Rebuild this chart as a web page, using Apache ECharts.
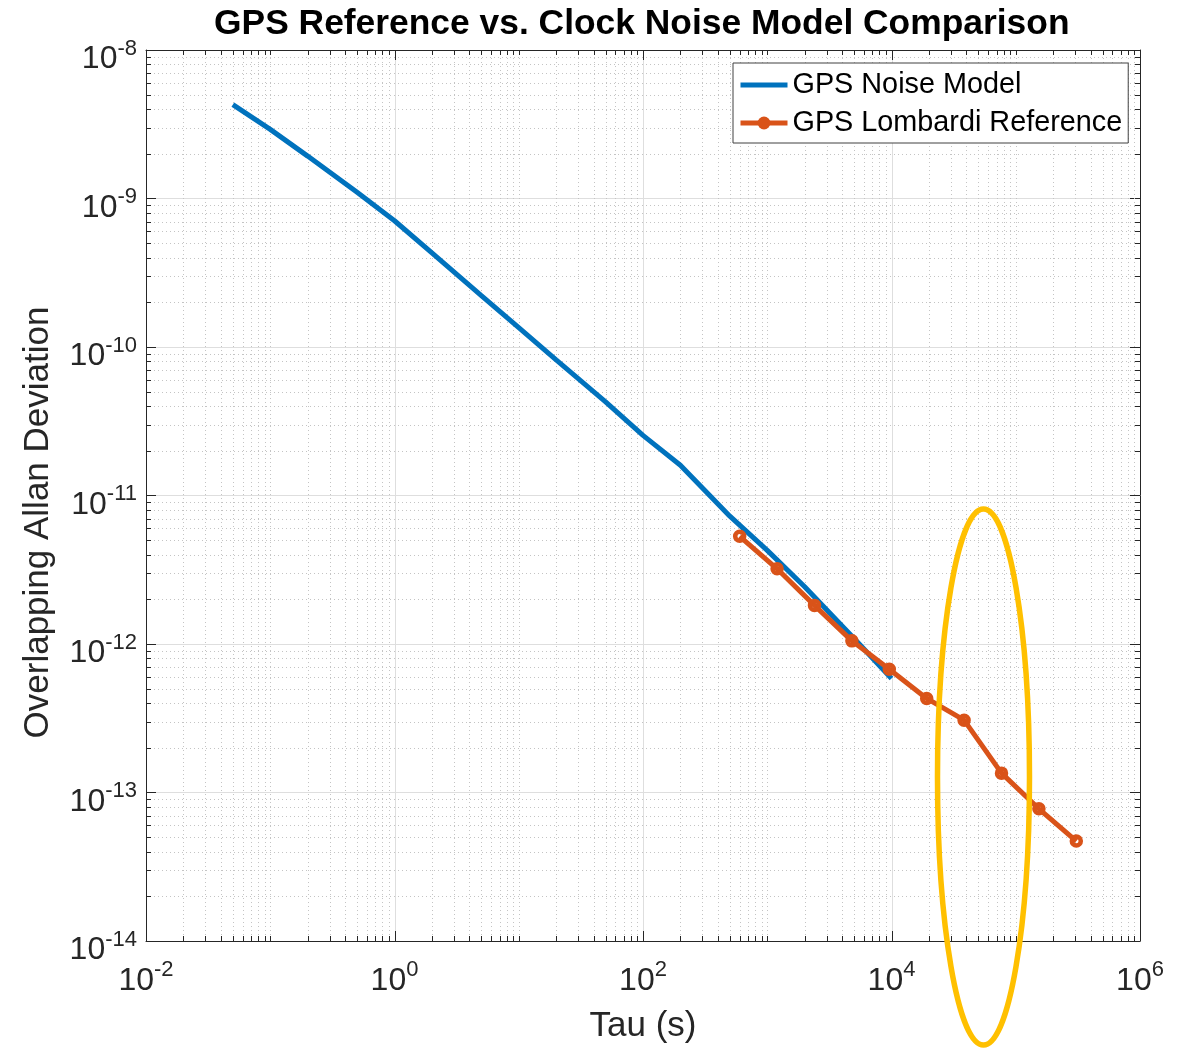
<!DOCTYPE html>
<html>
<head>
<meta charset="utf-8">
<title>GPS Reference vs. Clock Noise Model Comparison</title>
<script src="https://cdn.jsdelivr.net/npm/echarts@6/dist/echarts.min.js"></script>
<style>
  html, body { margin: 0; padding: 0; background: #ffffff; }
  #chart { width: 1184px; height: 1049px; }
</style>
</head>
<body>
<div id="chart"></div>
<script>
// ---- data -------------------------------------------------------------
// GPS noise model (overlapping Allan deviation vs averaging time)
const tauModel  = [0.05, 0.1, 0.2, 0.5, 1, 2, 5, 10, 20, 50, 100, 200, 500, 1000, 2000, 5000, 10000];
const adevModel = [4.29e-9, 2.92e-9, 1.93e-9, 1.10e-9, 7.08e-10, 4.30e-10, 2.22e-10, 1.35e-10,
                   8.2e-11, 4.27e-11, 2.54e-11, 1.6e-11, 7.26e-12, 4.27e-12, 2.43e-12, 1.09e-12, 5.85e-13];

// GPS reference (Lombardi) measurements
const tauRef  = [600, 1200, 2400, 4800, 9600, 19200, 38400, 76800, 153600, 307200];
const adevRef = [5.31e-12, 3.21e-12, 1.82e-12, 1.05e-12, 6.76e-13, 4.30e-13, 3.07e-13, 1.35e-13, 7.77e-14, 4.71e-14];

// axis ranges (decades)
const xRange = [1e-2, 1e6];
const yRange = [1e-14, 1e-8];

// highlighted region: centre in data units
const ringCenter = [5.5e4, 1.27e-13];

// ---- styling ------------------------------------------------------------
const FONT = '"Liberation Sans", Arial, Helvetica, sans-serif';
const AXIS_COLOR = '#262626';
const BLUE = '#0072BD';
const ORANGE = '#D95319';
const GOLD = '#FFC000';
const MAJOR_GRID = '#dedede';
const MINOR_GRID = '#c4c4c4';
const LINE_W = 5;

// power-of-ten tick label as rich text: 10 with a raised exponent
const powRich = {
  b: { fontFamily: FONT, fontSize: 32, lineHeight: 35, padding: [15, 0, 0, 0], verticalAlign: 'top', color: AXIS_COLOR },
  s: { fontFamily: FONT, fontSize: 22, lineHeight: 23, padding: [9, 0, 0, 0], verticalAlign: 'top', color: AXIS_COLOR }
};
function expOf(v) { return Math.round(Math.log10(v)); }
function yLabel(v) { return '{b|10}{s|' + expOf(v) + '}'; }
function xLabel(v) { const e = expOf(v); return e % 2 === 0 ? '{b|10}{s|' + e + '}' : ''; }

// grid/tick positions along x: every 1..9 x 10^e inside the range
const xMarks = [];
for (let e = Math.log10(xRange[0]); e < Math.log10(xRange[1]); e++) {
  for (let m = 1; m <= 9; m++) {
    if (m === 1 && e === Math.log10(xRange[0])) continue;
    xMarks.push([m * Math.pow(10, e), 1e-11, (m === 1 && e % 2 === 0) ? 1 : 0]);
  }
}
// minor grid/tick positions along y: 2..9 x 10^e
const yMarks = [];
for (let e = Math.log10(yRange[0]); e < Math.log10(yRange[1]); e++) {
  for (let m = 2; m <= 9; m++) yMarks.push([1, m * Math.pow(10, e)]);
}

function renderXMarks(params, api) {
  const cs = params.coordSys;
  const x = Math.round(api.coord([api.value(0), 1e-11])[0]) + 0.5;
  const major = api.value(2) === 1;
  const top = cs.y, bottom = cs.y + cs.height;
  const len = major ? 10 : 5;
  return {
    type: 'group',
    children: [
      { type: 'line', shape: { x1: x, y1: top, x2: x, y2: bottom },
        style: major ? { stroke: MAJOR_GRID, lineWidth: 1 } : { stroke: MINOR_GRID, lineWidth: 1, lineDash: [1, 3] } },
      { type: 'line', shape: { x1: x, y1: bottom, x2: x, y2: bottom - len }, style: { stroke: AXIS_COLOR, lineWidth: 1 } },
      { type: 'line', shape: { x1: x, y1: top, x2: x, y2: top + len }, style: { stroke: AXIS_COLOR, lineWidth: 1 } }
    ]
  };
}

function renderYMarks(params, api) {
  const cs = params.coordSys;
  const y = Math.round(api.coord([1, api.value(1)])[1]) + 0.5;
  const left = cs.x, right = cs.x + cs.width;
  return {
    type: 'group',
    children: [
      { type: 'line', shape: { x1: left, y1: y, x2: right, y2: y }, style: { stroke: MINOR_GRID, lineWidth: 1, lineDash: [1, 3] } },
      { type: 'line', shape: { x1: left, y1: y, x2: left + 5, y2: y }, style: { stroke: AXIS_COLOR, lineWidth: 1 } },
      { type: 'line', shape: { x1: right, y1: y, x2: right - 5, y2: y }, style: { stroke: AXIS_COLOR, lineWidth: 1 } }
    ]
  };
}

const logAxisBase = {
  type: 'log',
  logBase: 10,
  axisLine: { show: true, onZero: false, lineStyle: { color: AXIS_COLOR, width: 1 } }
};

const chart = echarts.init(document.getElementById('chart'), null, { renderer: 'canvas' });

chart.setOption({
  animation: false,
  backgroundColor: '#ffffff',
  title: {
    text: 'GPS Reference vs. Clock Noise Model Comparison',
    left: 214,
    top: 0,
    padding: [7, 0, 0, 0],
    textStyle: { fontFamily: FONT, fontSize: 35.4, fontWeight: 'bold', color: '#000000' }
  },
  grid: { left: 146, right: 44, top: 50, bottom: 105, containLabel: false },
  legend: {
    left: 733,
    top: 63,
    orient: 'vertical',
    padding: [6, 6, 4, 5],
    itemWidth: 47,
    itemHeight: 16,
    itemGap: 6,
    backgroundColor: '#ffffff',
    borderColor: '#404040',
    borderWidth: 1,
    borderRadius: 0,
    lineStyle: { width: LINE_W },
    textStyle: { fontFamily: FONT, fontSize: 28.8, lineHeight: 32, color: '#000000' },
    data: [
      { name: 'GPS Noise Model', itemStyle: { color: 'rgba(0,0,0,0)', borderWidth: 0, opacity: 0 } },
      { name: 'GPS Lombardi Reference', itemStyle: { color: ORANGE, borderColor: ORANGE, borderWidth: 0 } }
    ]
  },
  xAxis: [
    Object.assign({}, logAxisBase, {
      min: xRange[0], max: xRange[1], splitNumber: 8,
      position: 'bottom',
      axisTick: { show: false },
      splitLine: { show: false },
      axisLabel: { formatter: xLabel, rich: powRich, margin: 9 },
      name: 'Tau (s)',
      nameLocation: 'middle',
      nameGap: 68,
      nameTextStyle: { fontFamily: FONT, fontSize: 35, color: AXIS_COLOR }
    }),
    Object.assign({}, logAxisBase, {
      min: xRange[0], max: xRange[1], splitNumber: 8,
      position: 'top',
      axisTick: { show: false },
      splitLine: { show: false },
      axisLabel: { show: false }
    })
  ],
  yAxis: [
    Object.assign({}, logAxisBase, {
      min: yRange[0], max: yRange[1], splitNumber: 6,
      position: 'left',
      axisTick: { show: true, inside: true, length: 10, lineStyle: { color: AXIS_COLOR, width: 1 } },
      splitLine: { show: true, lineStyle: { color: MAJOR_GRID, width: 1 } },
      axisLabel: { formatter: yLabel, rich: powRich, margin: 9, padding: [0, 0, 8, 0] },
      name: 'Overlapping Allan Deviation',
      nameLocation: 'middle',
      nameGap: 90,
      nameTextStyle: { fontFamily: FONT, fontSize: 35, color: AXIS_COLOR, padding: [0, 54, 0, 0] }
    }),
    Object.assign({}, logAxisBase, {
      min: yRange[0], max: yRange[1], splitNumber: 6,
      position: 'right',
      axisTick: { show: true, inside: true, length: 10, lineStyle: { color: AXIS_COLOR, width: 1 } },
      splitLine: { show: false },
      axisLabel: { show: false }
    })
  ],
  series: [
    {
      name: 'x grid',
      type: 'custom',
      silent: true,
      z: 1,
      xAxisIndex: 0, yAxisIndex: 0,
      renderItem: renderXMarks,
      encode: { x: 0, y: 1 },
      data: xMarks
    },
    {
      name: 'y grid',
      type: 'custom',
      silent: true,
      z: 1,
      xAxisIndex: 0, yAxisIndex: 0,
      renderItem: renderYMarks,
      encode: { x: 0, y: 1 },
      data: yMarks
    },
    {
      name: 'GPS Noise Model',
      type: 'line',
      z: 3,
      xAxisIndex: 0, yAxisIndex: 0,
      symbol: 'none',
      lineStyle: { color: BLUE, width: LINE_W },
      itemStyle: { color: BLUE },
      data: tauModel.map((t, i) => [t, adevModel[i]])
    },
    {
      name: 'GPS Lombardi Reference',
      type: 'line',
      z: 4,
      xAxisIndex: 0, yAxisIndex: 0,
      symbol: 'circle',
      symbolSize: 9,
      lineStyle: { color: ORANGE, width: LINE_W },
      itemStyle: { color: 'rgba(255,255,255,0)', borderColor: ORANGE, borderWidth: 4.5 },
      data: tauRef.map((t, i) => [t, adevRef[i]])
    }
  ]
});

// highlight ring around the region of interest
const ringPx = chart.convertToPixel({ xAxisIndex: 0, yAxisIndex: 0 }, ringCenter);
chart.setOption({
  graphic: [{
    type: 'ellipse',
    silent: true,
    z: 100,
    shape: { cx: ringPx[0], cy: ringPx[1], rx: 46, ry: 268 },
    style: { fill: 'none', stroke: GOLD, lineWidth: 5.5 }
  }]
});
</script>
</body>
</html>
